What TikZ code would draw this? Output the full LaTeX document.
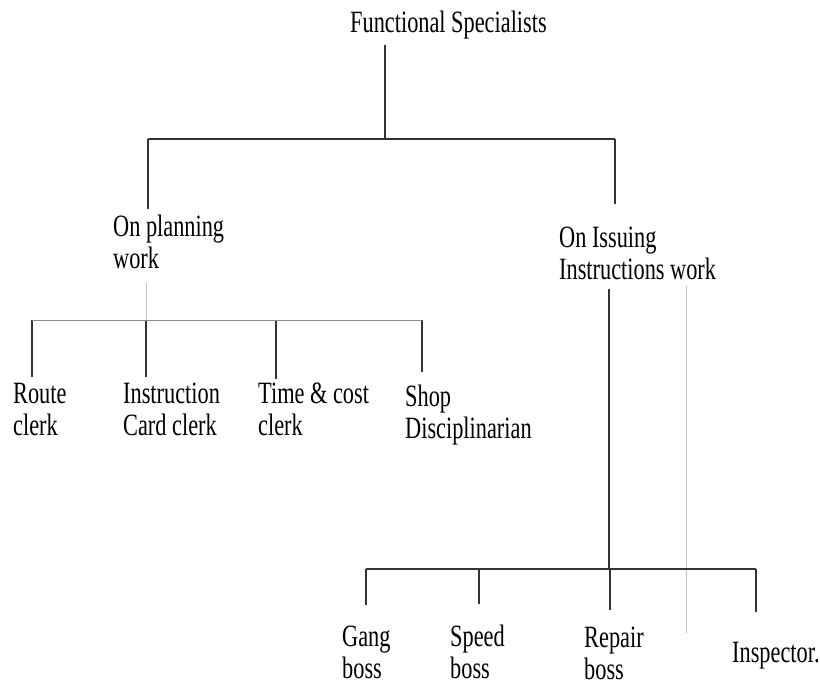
\documentclass[tikz,border=0pt]{standalone}
\usepackage{fontspec}
\setmainfont{Liberation Serif}[FakeStretch=0.72]
\usepackage{tikz}

\begin{document}
\begin{tikzpicture}[x=1pt,y=-1pt,
    lbl/.style={anchor=base west, inner sep=0pt, align=left,
      font=\fontsize{31}{32}\selectfont},
    dark/.style={draw=black!80, line width=1.4pt},
    mid/.style={draw=black!45, line width=1pt},
    pale/.style={draw=black!25, line width=0.9pt}]
    \useasboundingbox (0,0) rectangle (820,686);

    % labels (base = last line)
    \node [lbl] (title)  at (350,32)  {Functional Specialists};
    \node [lbl] (plan)   at (113,268) {On planning\\work};
    \node [lbl] (issue)  at (559,279) {On Issuing\\Instructions work};
    \node [lbl] (route)  at (13,435)  {Route\\clerk};
    \node [lbl] (card)   at (123,435) {Instruction\\Card clerk};
    \node [lbl] (cost)   at (258,435) {Time \& cost\\clerk};
    \node [lbl] (shop)   at (405,438) {Shop\\Disciplinarian};
    \node [lbl] (gang)   at (342,678) {Gang\\boss};
    \node [lbl] (speed)  at (450,678) {Speed\\boss};
    \node [lbl] (repair) at (584,679) {Repair\\boss};
    \node [lbl] (insp)   at (732,662) {Inspector.};

    % top level
    \coordinate (hub) at (385,139);
    \coordinate (planstem) at (148,139);
    \coordinate (issuestem) at (615,139);
    \draw [dark] ([yshift=-6pt]title.south -| hub) -- (hub);
    \draw [dark] (planstem) -- (issuestem);
    \draw [dark] (planstem) -- ([yshift=5pt]plan.north -| planstem);
    \draw [dark] (issuestem) -- ([yshift=22pt]issue.north -| issuestem);

    % planning side
    \coordinate (planbar) at (146,320);
    \draw [pale] ([yshift=-14pt]plan.south -| planbar) -- (planbar);
    \foreach \kid/\sx/\gap in {route/32/6, card/146/5, cost/276/3, shop/422/12}{
      \coordinate (\kid-top) at (\sx,320);
      \draw [dark] (\kid-top) -- ([yshift=\gap pt]\kid.north -| \kid-top);
    }
    \draw [mid] (route-top) -- (shop-top);

    % issuing side
    \coordinate (issuebar) at (609,569);
    \coordinate (issuepale) at (686,633);
    \draw [dark] ([yshift=-9pt]issue.south -| issuebar) -- (issuebar);
    \draw [pale] ([yshift=-6pt]issue.south -| issuepale) -- (issuepale);
    \foreach \kid/\sx/\gap in {gang/366/20, speed/479/20, repair/610/16, insp/756/30}{
      \coordinate (\kid-top) at (\sx,569);
      \draw [dark] (\kid-top) -- ([yshift=\gap pt]\kid.north -| \kid-top);
    }
    \draw [dark] (gang-top) -- (insp-top);
\end{tikzpicture}
\end{document}
